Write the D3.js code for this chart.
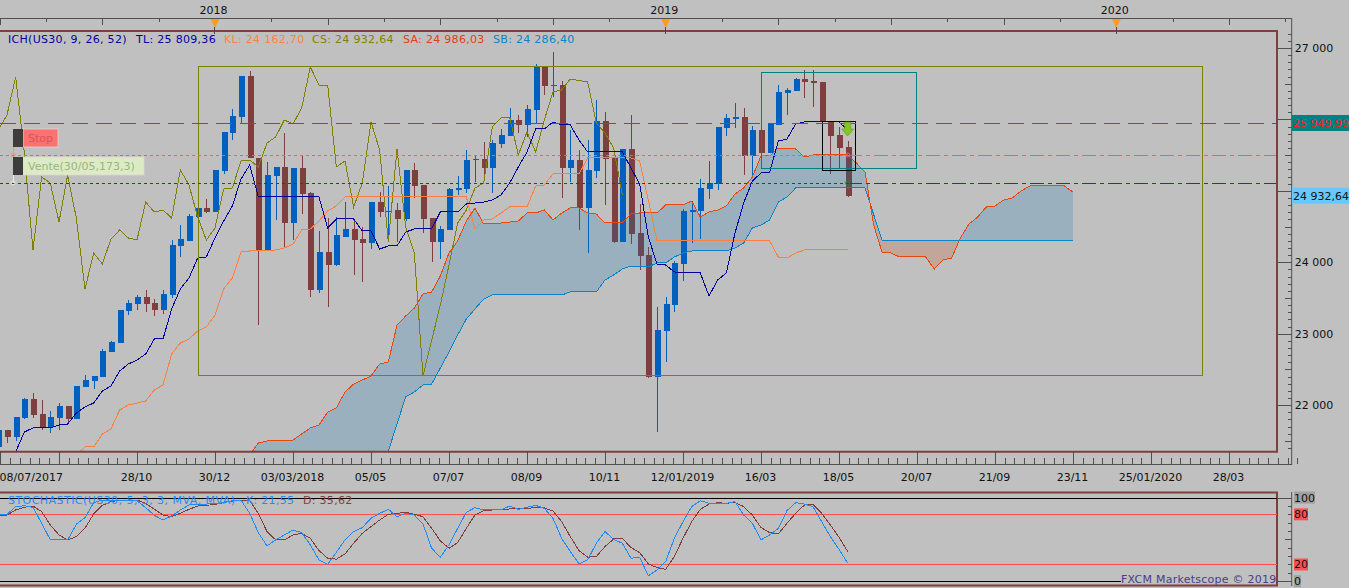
<!DOCTYPE html>
<html>
<head>
<meta charset="utf-8">
<script src="https://d3js.org/d3.v7.min.js"></script>
<style>
  html, body { margin: 0; padding: 0; background: #c0c0c0; overflow: hidden; }
  text { font-family: "DejaVu Sans", sans-serif; font-size: 11px; }
</style>
</head>
<body>
<div id="chart"></div>
<script>
// US30 weekly candles, one entry per week starting 08/07/2017 (week 0)
const opens = [21414,21652,21554,21820,22086,21876,21694,21820,21988,21806,22254,22338,22394,22744,22870,23318,23416,23514,23430,23332,
  23542,24228,24298,24634,24760,24704,25278,25810,26034,26608,25460,24158,25208,25334,24550,25320,24970,23612,24144,23962,
  24354,24466,24326,24270,24844,24704,24732,24606,25292,25082,24620,24284,24452,25012,25026,25432,25446,25320,25656,25768,
  25992,25922,26132,26734,26468,26482,25320,25432,24760,25278,25978,25474,24284,25586,24410,24102,22394,23038,23402,23976,
  24704,24718,25026,25096,25880,26006,26034,25488,25852,25530,25922,26370,26398,26566,26538,26524,25964,25782,25614];
const highs = [21652,21652,21834,22100,22170,22072,21918,22030,21988,22268,22422,22408,22786,22898,23332,23472,23542,23612,23486,23612,
  24312,24522,24676,24858,24886,25292,25824,26146,26608,26678,25460,25404,25334,25810,25320,25502,24984,24438,24620,24634,
  24844,24592,24494,24844,24984,25068,24830,25292,25390,25082,24620,24508,25040,25208,25572,25502,25684,25712,25866,26160,
  26062,26202,26776,26734,26944,26538,25852,25572,25712,26272,26104,25474,25586,26062,24816,24214,23374,23514,24018,24746,
  24858,25166,25418,25894,26076,26230,26160,25908,26090,25936,26482,26440,26580,26692,26692,26524,25964,25894,25698];
const lows = [21414,21470,21498,21806,21820,21652,21610,21652,21736,21806,22254,22226,22394,22744,22870,23262,23332,23304,23248,23276,
  23500,24074,24298,24634,24690,24704,25236,25712,25950,25460,23122,24158,24592,24214,24312,24676,23514,23570,23374,23948,
  24354,23822,23724,24186,24634,24354,24284,24578,24900,24410,24004,24046,24452,24942,24970,25124,25222,24970,25600,25768,
  25810,25754,25950,26342,26314,24900,25124,24452,24130,25180,24802,24270,24284,24256,23892,22380,21624,22604,23304,23738,
  24270,24326,24886,25012,25768,25880,25222,25222,25502,25530,25922,26062,26398,26300,26174,25292,25236,25320,24914];
const closes = [21652,21554,21834,22086,21862,21694,21834,21988,21806,22268,22352,22408,22758,22884,23332,23430,23514,23416,23332,23556,
  24242,24326,24648,24760,24704,25292,25824,26048,26608,25460,24158,25222,25334,24550,25320,24956,23612,24144,23962,24382,
  24466,24312,24270,24844,24704,24718,24606,25292,25068,24606,24284,24466,25026,25040,25432,25446,25320,25670,25782,25992,
  25922,26146,26734,26468,26482,25320,25432,24760,25292,25978,25446,24284,25586,24396,24088,22394,23052,23416,23990,24718,
  24732,25040,25110,25894,26020,26034,25488,25852,25530,25936,26384,26412,26566,26524,26510,25964,25768,25600,24928];

// Ichimoku lines as [week, price] vertices
const tenkan = [[2,21344],[3,21624],[4,21680],[6,21680],[7,21722],[8,21736],[9,21890],[10,21974],[11,22030],[12,22198],[13,22268],[14,22478],[15,22576],[16,22632],[17,22716],[18,22926],[19,22926],[20,23346],[21,23626],[22,23780],[23,24060],[24,24074],[25,24340],[26,24578],[27,24788],[28,25166],[29,25362],[30,24914],[37,24914],[38,24480],[39,24606],[41,24606],[42,24438],[43,24438],[44,24186],[45,24228],[46,24228],[47,24424],[48,24466],[50,24466],[51,24704],[53,24704],[54,24816],[56,24844],[57,24872],[58,24942],[59,25110],[60,25334],[61,25544],[62,25866],[63,25866],[64,25964],[65,25922],[66,25922],[67,25712],[68,25544],[72,25544],[73,25320],[74,25096],[75,24354],[76,23976],[77,23962],[78,23864],[81,23850],[82,23528],[83,23752],[84,23850],[85,24410],[86,24830],[87,25138],[88,25250],[89,25264],[90,25698],[91,25726],[92,25936],[93,25964],[97,25964],[98,25852]];
const kijun = [[9,21302],[10,21414],[11,21414],[12,21596],[13,21666],[14,21932],[15,22002],[17,22058],[18,22212],[19,22282],[20,22716],[21,22870],[22,22926],[23,23038],[24,23094],[25,23262],[26,23626],[27,23780],[28,24144],[29,24158],[32,24172],[33,24200],[34,24256],[35,24452],[36,24466],[37,24578],[38,24718],[39,24788],[40,24914],[54,24914],[55,24466],[56,24592],[57,24606],[59,24774],[61,24774],[62,25068],[63,25082],[64,25236],[67,25236],[68,25460],[73,25460],[74,25418],[75,24872],[76,24298],[89,24298],[90,24074],[91,24060],[92,24130],[93,24172],[98,24172]];
const chikou = [[0,25852],[1,26062],[2,26594],[3,25530],[4,24172],[5,25194],[6,25110],[7,24564],[8,25222],[9,24620],[10,23626],[11,24130],[12,23976],[13,24326],[14,24452],[15,24340],[16,24312],[17,24844],[18,24704],[19,24732],[20,24620],[21,25292],[22,25082],[23,24634],[24,24312],[25,24480],[26,25026],[27,25040],[28,25418],[29,25432],[30,25334],[31,25670],[32,25754],[33,25992],[34,25936],[35,26160],[36,26734],[37,26482],[38,26482],[39,25334],[40,25418],[41,24774],[42,25110],[43,25964],[44,25572],[45,24284],[46,25586],[47,24494],[48,24130],[49,22408],[50,22912],[51,23402],[52,23962],[53,24550],[54,24732],[55,25040],[56,25110],[57,25894],[58,26020],[59,26034],[60,25502],[61,25824],[62,25544],[63,25992],[64,26384],[65,26412],[66,26566],[68,26524],[69,25950],[70,25810],[71,25600],[72,24942]];
const senkouA = [[29,21302],[30,21470],[31,21498],[34,21512],[35,21596],[36,21680],[37,21722],[38,21904],[39,21960],[40,22184],[41,22296],[42,22352],[43,22408],[44,22576],[45,22604],[46,23122],[47,23248],[48,23360],[49,23556],[50,23584],[51,23808],[52,24130],[53,24298],[54,24578],[55,24760],[56,24536],[57,24536],[58,24550],[60,24578],[61,24690],[62,24690],[63,24732],[64,24592],[65,24690],[66,24760],[67,24760],[68,24690],[69,24676],[70,24550],[72,24550],[73,24676],[74,24690],[76,24690],[77,24802],[79,24802],[80,24858],[81,24634],[82,24704],[83,24732],[84,24788],[85,24956],[86,25040],[87,25194],[88,25488],[89,25488],[90,25600],[92,25586],[93,25474],[94,25502],[98,25502],[99,25390],[100,25264],[101,24522],[102,24130],[103,24130],[104,24074],[107,24074],[108,23906],[109,24032],[110,24060],[111,24340],[112,24536],[113,24634],[114,24774],[115,24788],[116,24872],[117,24900],[118,24998],[119,25068],[123,25068],[124,24984]];
// the first two senkouB values sit below the visible pane, rough estimates
const senkouB = [[29,20300],[44,20952],[45,21358],[46,21736],[47,22114],[48,22184],[49,22282],[50,22296],[51,22520],[52,22744],[53,22982],[54,23206],[55,23346],[56,23486],[57,23542],[65,23542],[66,23584],[69,23584],[70,23752],[71,23822],[72,23906],[73,23948],[75,23934],[76,23990],[77,23990],[78,24074],[79,24130],[80,24158],[84,24158],[85,24200],[86,24270],[87,24480],[88,24522],[89,24592],[90,24844],[91,24914],[92,25040],[100,25040],[102,24298],[124,24298]];

// Stochastic, one value per week
const stochK = [80,80,89.2,90.3,88.4,69.3,49.4,49.4,49.4,68.1,76,93.9,97.1,97.1,97.1,97.1,96.3,88,78.8,73.2,
  78,85.2,91.1,91.9,92.3,92.7,93.9,96.3,97.1,81.2,58.1,42.2,49.4,55.3,61.3,58.1,43.4,25.5,20.3,34.6,
  49.4,59.3,64.1,75.2,81.2,86,77.2,81.2,79.2,68.5,39.4,28.7,43.4,63.3,82.4,88,85.2,85.2,85.2,89.9,
  86,88.4,90.7,87.2,75.2,51.3,35.4,20.7,25.5,45.4,59.3,50.1,45.4,27.5,28.7,6.4,13.5,23.5,51.3,71.2,
  89.2,96.3,93.1,93.1,93.1,95.1,79.2,69.3,49.4,55.3,63.3,84.4,93.9,92.3,89.2,71.2,53.3,38.2,21.55];
const stochD = [78.4,79.2,85.2,88.4,89.9,83.2,67.3,55.3,49.4,53.3,63.3,80.4,90.7,95.1,96.7,97.1,97.1,93.1,86,79.2,
  77.2,81.2,86,89.9,90.7,91.9,93.9,95.9,97.1,96.3,81.2,59.3,49.4,49.4,55.3,57.3,51.3,36.6,27.5,26.3,
  32.6,45.4,57.3,65.3,73.2,80,81.2,82.4,80,77.2,63.3,48.2,39.4,46.2,63.3,79.2,84.4,85.2,85.2,86.4,87.2,87.2,88,87.6,
  84,71.2,53.3,36.6,28.7,29.5,41.4,50.5,51.3,40.2,34.2,20.7,16.3,14.3,29.5,51.3,71.2,86,92.3,93.9,93.1,94.3,89.2,79.2,
  64.1,58.1,56.5,69.3,81.2,91.1,91.9,81.2,67.3,52.5,35.62];

// Axis labels
const dateLabels = ["08/07/2017","28/10","30/12","03/03/2018","05/05","07/07","08/09","10/11","12/01/2019","16/03","18/05","20/07","21/09","23/11","25/01/2020","28/03"];
const dateWeeks = [0,16,25,34,43,52,61,70,79,88,97,106,115,124,133,142];
const yearLabels = ["2018","2019","2020"];
const yearWeeks = [25,77,129];
const priceTicks = [27000,26000,25000,24000,23000,22000];
const priceLabels = [27000,24000,23000,22000];
const stochTicks = [100,80,20,0];

// Horizontal order levels and drawn boxes
const stopLevel = 25949.99, sellLevel = 25502, entryLevel = 25110, lastPrice = 24932.64;
const orderWeek = 98;
const boxOlive = {w0: 23, w1: 138.9, p0: 26740, p1: 22408};
const boxTeal = {w0: 88, w1: 105.9, p0: 26658, p1: 25306};
const boxBlack = {w0: 95, w1: 98.8, p0: 25971, p1: 25278};

const width = 1349, height = 588;
const paneRight = 1277, axisX = 1291.7;
const BROWN = "#7f3f3f", BLUE = "#0060c0", AXIS = "#505050";

const x = d3.scaleLinear().domain([0, 124]).range([-1.67, 1073]);
const y = d3.scaleLinear().domain([22000, 27000]).range([405.14, 48]);
const ys = d3.scaleLinear().domain([0, 100]).range([581.2, 497.6]);

const svg = d3.select("#chart").append("svg")
  .attr("width", width).attr("height", height)
  .style("display", "block");

svg.append("rect").attr("width", width).attr("height", height).attr("fill", "#c0c0c0");

const defs = svg.append("defs");
defs.append("clipPath").attr("id", "pane")
  .append("rect").attr("x", 0).attr("y", 32).attr("width", paneRight).attr("height", 419);

const pane = svg.append("g").attr("clip-path", "url(#pane)");

// Candles
const weeks = d3.range(opens.length);
const colorOf = i => closes[i] >= opens[i] ? BLUE : BROWN;

pane.append("g").selectAll("line").data(weeks).join("line")
  .attr("x1", i => Math.round(x(i)) + 0.5).attr("x2", i => Math.round(x(i)) + 0.5)
  .attr("y1", i => y(highs[i])).attr("y2", i => y(lows[i]))
  .attr("stroke", colorOf).attr("shape-rendering", "crispEdges");

pane.append("g").selectAll("rect").data(weeks).join("rect")
  .attr("x", i => Math.round(x(i)) - 2.5).attr("width", 6)
  .attr("y", i => y(Math.max(opens[i], closes[i])))
  .attr("height", i => Math.max(1.5, Math.abs(y(opens[i]) - y(closes[i]))))
  .attr("fill", colorOf).attr("shape-rendering", "crispEdges");

// Cloud, split at the crossings of the two senkou lines
const areaDown = d3.area().x(d => x(d[0])).y0(470).y1(d => y(d[1]));
const areaUp = d3.area().x(d => x(d[0])).y0(0).y1(d => y(d[1]));
defs.append("clipPath").attr("id", "aboveB").append("path").attr("d", areaUp(senkouB));
defs.append("clipPath").attr("id", "aboveA").append("path").attr("d", areaUp(senkouA));

pane.append("path").attr("d", areaDown(senkouA))
  .attr("clip-path", "url(#aboveB)").attr("fill", "#0775bb").attr("fill-opacity", 0.2);
pane.append("path").attr("d", areaDown(senkouB))
  .attr("clip-path", "url(#aboveA)").attr("fill", "#cf4307").attr("fill-opacity", 0.2);

// Ichimoku lines
const line = d3.line().x(d => x(d[0])).y(d => y(d[1]));
const drawLine = (data, color) => pane.append("path").attr("d", line(data))
  .attr("fill", "none").attr("stroke", color).attr("stroke-width", 1)
  .attr("shape-rendering", "crispEdges");
drawLine(chikou, "#808000");
drawLine(senkouB, "#0a84c8");
drawLine(senkouA, "#e8480c");
drawLine(kijun, "#ff8040");
drawLine(tenkan, "#0000a0");

// Boxes, snapped to whole pixels
const drawBox = (b, color) => {
  const left = Math.round(x(b.w0)) + 0.5, right = Math.round(x(b.w1)) + 0.5;
  const top = Math.floor(y(b.p0)) + 0.5, bottom = Math.floor(y(b.p1)) + 0.5;
  pane.append("rect")
    .attr("x", left).attr("y", top)
    .attr("width", right - left).attr("height", bottom - top)
    .attr("fill", "none").attr("stroke", color).attr("stroke-width", 1)
    .attr("shape-rendering", "crispEdges");
};
drawBox(boxOlive, "#808000");
drawBox(boxTeal, "#008080");
drawBox(boxBlack, "#000000");

// Level lines
const hLine = (price, x0, x1, color, dash) => pane.append("line")
  .attr("x1", x0).attr("x2", x1).attr("y1", Math.round(y(price)) + 0.5).attr("y2", Math.round(y(price)) + 0.5)
  .attr("stroke", color).attr("stroke-dasharray", dash).attr("shape-rendering", "crispEdges");
hLine(stopLevel, 0, paneRight, "#008080", "16,8");
hLine(sellLevel, 0, x(orderWeek), "#f06060", "3,3");
hLine(sellLevel, x(orderWeek), paneRight, "#f06060", "14,4,4,4");
hLine(entryLevel, 0, x(orderWeek), "#006400", "3,3");
hLine(entryLevel, x(orderWeek), paneRight, "#006400", "14,4,4,4");

// Order markers
const arrowX = x(orderWeek);
svg.append("path")
  .attr("d", `M${arrowX - 3},122 h6 v7 h3 l-6,7 l-6,-7 h3 z`)
  .attr("fill", "#80c820").attr("stroke", "#5f9a18").attr("stroke-width", 0.6);
svg.append("circle").attr("cx", arrowX).attr("cy", y(sellLevel))
  .attr("r", 2).attr("fill", "none").attr("stroke", "#f06060");
svg.append("circle").attr("cx", arrowX).attr("cy", y(entryLevel))
  .attr("r", 2).attr("fill", "none").attr("stroke", "#1a8a1a");

// Stop and Vente tags
const tag = (top, w, bg, fg, label) => {
  svg.append("rect").attr("x", 23).attr("y", top).attr("width", w).attr("height", 18)
    .attr("fill", bg).attr("stroke", "#d8d8d8").attr("stroke-width", 0.8);
  svg.append("rect").attr("x", 13).attr("y", top).attr("width", 10).attr("height", 18).attr("fill", "#3c3c3c");
  svg.append("text").attr("x", 28).attr("y", top + 13).attr("fill", fg).text(label);
};
svg.append("line").attr("x1", 13.5).attr("x2", 13.5).attr("y1", 147).attr("y2", y(sellLevel)).attr("stroke", "#f09090");
svg.append("circle").attr("cx", 13).attr("cy", y(sellLevel)).attr("r", 2).attr("fill", "none").attr("stroke", "#f09090");
svg.append("line").attr("x1", 13.5).attr("x2", 13.5).attr("y1", 175).attr("y2", y(entryLevel)).attr("stroke", "#e8e8e8");
svg.append("circle").attr("cx", 13).attr("cy", y(entryLevel)).attr("r", 2).attr("fill", "none").attr("stroke", "#e8e8e8");
tag(129, 35, "#ff7070", "#cc5a5a", "Stop");
tag(157, 121, "#dcebc4", "#9ab485", "Vente(30/05,173,3)");

// Main frame
svg.append("path").attr("d", `M0,31 H${paneRight} V451.7 H0`)
  .attr("fill", "none").attr("stroke", BROWN).attr("stroke-width", 2);

// Legend line
const legend = svg.append("g").style("letter-spacing", "0.3px");
[["ICH(US30, 9, 26, 52)", 8, "#0000a0"], ["TL: 25 809,36", 136, "#0000a0"], ["KL: 24 162,70", 224, "#ff8040"],
 ["CS: 24 932,64", 312, "#808000"], ["SA: 24 986,03", 403, "#e04010"], ["SB: 24 286,40", 493, "#0a84c8"]]
  .forEach(d => legend.append("text").attr("x", d[1]).attr("y", 43).attr("fill", d[2]).text(d[0]));

// Top axis
const styleAxis = g => {
  g.select(".domain").remove();
  g.selectAll("line").attr("stroke", AXIS).attr("shape-rendering", "crispEdges");
  g.selectAll("text").attr("fill", "#111").style("font-size", "11px").style("font-family", "DejaVu Sans");
};
const topMajor = d3.range(12).map(k => -1 + 13 * k);
const topMinor = topMajor.map(w => w + 6.5);
svg.append("g").attr("transform", "translate(0,18.5)")
  .call(d3.axisBottom(x).tickValues(topMajor).tickSize(6).tickFormat("")).call(styleAxis);
svg.append("g").attr("transform", "translate(0,18.5)")
  .call(d3.axisBottom(x).tickValues(topMinor).tickSize(3).tickFormat("")).call(styleAxis);
svg.append("g").attr("transform", "translate(-2,18.5)")
  .call(d3.axisTop(x).tickValues(yearWeeks).tickSize(0).tickPadding(5).tickFormat((d, i) => yearLabels[i])).call(styleAxis);
svg.append("line").attr("x1", 0).attr("x2", axisX).attr("y1", 18.5).attr("y2", 18.5).attr("stroke", AXIS);
svg.append("line").attr("x1", 0.5).attr("x2", 0.5).attr("y1", 18.5).attr("y2", 25).attr("stroke", AXIS);

svg.append("g").selectAll("path").data(yearWeeks).join("path")
  .attr("d", w => `M${x(w) - 4.5},19 h9 l-4.5,9 z`).attr("fill", "#ff9c1e");
svg.append("g").selectAll("line").data(yearWeeks).join("line")
  .attr("x1", w => x(w)).attr("x2", w => x(w)).attr("y1", 27).attr("y2", 34)
  .attr("stroke", "#5a4040").attr("shape-rendering", "crispEdges");

// Bottom date axis
const majorWeeks = [0.25].concat(d3.range(7, 143, 9));
const minorWeeks = d3.range(7 - 6.75, 150, 1.125);
svg.append("g").attr("transform", "translate(0,464)")
  .call(d3.axisTop(x).tickValues(minorWeeks).tickSize(6).tickFormat("")).call(styleAxis);
svg.append("g").attr("transform", "translate(0,464)")
  .call(d3.axisTop(x).tickValues(majorWeeks).tickSize(13).tickFormat("")).call(styleAxis);
const dateAxis = svg.append("g").attr("transform", "translate(-1,464)")
  .call(d3.axisBottom(x).tickValues(dateWeeks).tickSize(0).tickPadding(9).tickFormat((d, i) => dateLabels[i])).call(styleAxis);
dateAxis.selectAll("text").filter((d, i) => i === 0).attr("text-anchor", "start").attr("x", 1.67);
svg.append("line").attr("x1", 0).attr("x2", axisX + 0.3).attr("y1", 464.5).attr("y2", 464.5).attr("stroke", AXIS);

// Right price axis
svg.append("line").attr("x1", axisX).attr("x2", axisX).attr("y1", 18).attr("y2", 465).attr("stroke", AXIS);
const priceMinor = d3.range(21400, 27300, 100).filter(p => p % 500 !== 0);
const priceMid = d3.range(21500, 27300, 500).filter(p => p % 1000 !== 0);
svg.append("g").attr("transform", `translate(${axisX},0)`)
  .call(d3.axisLeft(y).tickValues(priceMinor).tickSize(4).tickFormat("")).call(styleAxis);
svg.append("g").attr("transform", `translate(${axisX},0)`)
  .call(d3.axisLeft(y).tickValues(priceMid).tickSize(7).tickFormat("")).call(styleAxis);
svg.append("g").attr("transform", `translate(${axisX},0)`)
  .call(d3.axisLeft(y).tickValues(priceTicks).tickSize(14.7).tickFormat("")).call(styleAxis);
const spaced = d => String(d).replace(/(\d+)(\d{3})$/, "$1 $2");
svg.append("g").attr("transform", `translate(${axisX},0)`)
  .call(d3.axisRight(y).tickValues(priceLabels).tickSize(0).tickPadding(3).tickFormat(spaced)).call(styleAxis);

// Price flags
const flag = (price, bg, fg, label) => {
  const cy = y(price);
  svg.append("rect").attr("x", 1292).attr("y", cy - 8).attr("width", 57).attr("height", 16).attr("fill", bg);
  svg.append("text").attr("x", 1293).attr("y", cy + 4).attr("fill", fg).text(label);
};
flag(stopLevel, "#008080", "#ff2020", "25 949,99");
flag(lastPrice, "#66c8ff", "#111", "24 932,64");

// Stochastic pane
svg.append("path").attr("d", `M0,492.5 H${paneRight} V585.5 H0`)
  .attr("fill", "none").attr("stroke", BROWN).attr("stroke-width", 2);
const guide = (v, color, x1) => svg.append("line")
  .attr("x1", 0).attr("x2", x1)
  .attr("y1", Math.round(ys(v)) + 0.5).attr("y2", Math.round(ys(v)) + 0.5)
  .attr("stroke", color).attr("shape-rendering", "crispEdges");
guide(100, "#000", paneRight);
guide(80, "#ff5050", paneRight);
guide(20, "#ff5050", paneRight);
guide(0, "#000", 1121);

const stochLine = d3.line().x((d, i) => x(i)).y(d => ys(d));
svg.append("path").attr("d", stochLine(stochD)).attr("fill", "none")
  .attr("stroke", BROWN).attr("shape-rendering", "crispEdges");
svg.append("path").attr("d", stochLine(stochK)).attr("fill", "none")
  .attr("stroke", "#1e8cff").attr("shape-rendering", "crispEdges");

svg.append("text").attr("x", 8).attr("y", 504).attr("fill", "#1e8cff")
  .style("letter-spacing", "0.45px").text("STOCHASTIC(US30, 5, 3, 3, MVA, MVA)");
svg.append("text").attr("x", 246).attr("y", 504).attr("fill", "#1e8cff").style("letter-spacing", "0.3px").text("K: 21,55");
svg.append("text").attr("x", 303).attr("y", 504).attr("fill", BROWN).style("letter-spacing", "0.3px").text("D: 35,62");
svg.append("text").attr("x", 1121).attr("y", 583).attr("fill", "#483d8b")
  .style("letter-spacing", "0.25px").text("FXCM Marketscope © 2019");

// Stochastic axis
svg.append("line").attr("x1", axisX).attr("x2", axisX).attr("y1", 492).attr("y2", 586).attr("stroke", AXIS);
svg.append("g").attr("transform", `translate(${axisX},0)`)
  .call(d3.axisLeft(ys).tickValues(d3.range(10, 100, 10)).tickSize(4).tickFormat("")).call(styleAxis);
svg.append("g").attr("transform", `translate(${axisX},0)`)
  .call(d3.axisLeft(ys).tickValues([50]).tickSize(7).tickFormat("")).call(styleAxis);
svg.append("g").attr("transform", `translate(${axisX},0)`)
  .call(d3.axisLeft(ys).tickValues([0, 100]).tickSize(14.7).tickFormat("")).call(styleAxis);

stochTicks.forEach(v => {
  const label = String(v);
  const w = label.length * 7;
  svg.append("rect").attr("x", 1294).attr("y", ys(v) - 6).attr("width", w).attr("height", 12)
    .attr("fill", v === 80 || v === 20 ? "#ff5050" : "#a0a0a0");
  svg.append("text").attr("x", 1294).attr("y", ys(v) + 4).attr("fill", "#111").text(label);
});
</script>
</body>
</html>
